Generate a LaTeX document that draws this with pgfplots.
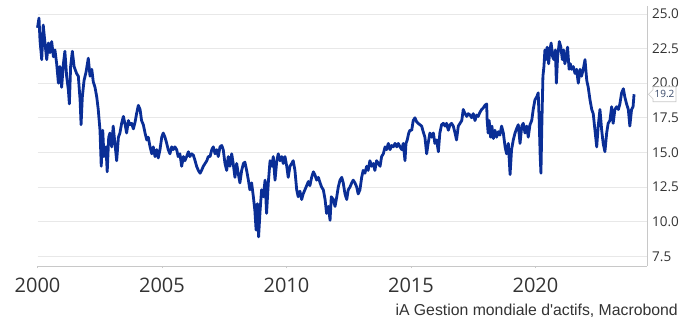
\documentclass[border=0pt]{standalone}
\usepackage{pgfplots}
\pgfplotsset{compat=1.18}
\usepackage{fontspec}
\setmainfont{Open Sans}
\newfontfamily\srcfont[Ligatures=ResetAll]{Liberation Sans}
\definecolor{lineblue}{HTML}{0A2E96}
\definecolor{gridgray}{HTML}{E8E8E8}
\definecolor{axgray}{HTML}{C8C8C8}
\definecolor{txtgray}{HTML}{333333}
\definecolor{lblblue}{HTML}{3A4A6A}
\pgfplotstableread{
x y
2000.00 24.0
2000.06 24.7
2000.10 23.1
2000.17 21.7
2000.23 24.2
2000.30 22.9
2000.37 21.7
2000.44 22.9
2000.50 22.2
2000.57 23.0
2000.64 21.9
2000.70 22.4
2000.77 21.4
2000.84 20.0
2000.90 21.2
2000.97 19.7
2001.04 21.4
2001.10 22.3
2001.17 20.5
2001.24 19.5
2001.28 18.5
2001.33 21.2
2001.40 22.3
2001.47 21.2
2001.57 20.7
2001.64 20.5
2001.71 18.8
2001.75 17.0
2001.80 19.0
2001.87 20.2
2001.95 20.8
2002.04 21.8
2002.11 20.5
2002.18 21.0
2002.24 20.1
2002.31 19.7
2002.38 19.0
2002.44 18.1
2002.51 16.6
2002.56 14.0
2002.62 16.6
2002.67 14.7
2002.75 15.4
2002.80 13.6
2002.86 16.1
2002.91 16.4
2002.98 15.4
2003.04 16.9
2003.11 15.65
2003.18 14.4
2003.25 16.1
2003.31 16.4
2003.38 17.1
2003.45 17.6
2003.51 17.1
2003.58 16.4
2003.65 17.3
2003.71 17.0
2003.78 17.1
2003.85 16.7
2003.92 17.2
2003.98 17.8
2004.05 18.4
2004.12 18.1
2004.18 17.3
2004.25 17.0
2004.32 16.4
2004.39 15.9
2004.45 16.1
2004.52 15.4
2004.59 14.9
2004.65 15.4
2004.72 14.7
2004.79 15.2
2004.85 14.6
2004.92 15.2
2004.99 16.1
2005.05 16.4
2005.12 16.1
2005.19 15.65
2005.25 15.2
2005.32 14.9
2005.39 15.4
2005.45 15.2
2005.52 15.4
2005.59 15.2
2005.65 14.7
2005.72 14.9
2005.79 14.0
2005.86 14.7
2005.92 14.4
2005.99 14.7
2006.06 15.05
2006.12 14.7
2006.19 14.9
2006.26 14.8
2006.33 14.4
2006.39 14.0
2006.46 13.7
2006.53 13.5
2006.59 13.7
2006.66 14.0
2006.73 14.2
2006.80 14.4
2006.86 14.7
2006.93 14.7
2007.00 15.2
2007.06 15.4
2007.13 14.9
2007.20 15.2
2007.26 14.7
2007.33 15.4
2007.40 15.5
2007.46 15.2
2007.53 14.2
2007.60 13.7
2007.66 14.7
2007.73 14.0
2007.80 14.9
2007.86 14.2
2007.93 13.2
2008.00 14.2
2008.06 13.5
2008.13 12.8
2008.20 13.7
2008.27 14.2
2008.33 14.3
2008.40 13.7
2008.47 13.0
2008.53 12.3
2008.60 12.8
2008.67 11.8
2008.73 10.8
2008.78 9.4
2008.83 11.3
2008.88 8.9
2008.94 10.8
2009.00 12.3
2009.07 11.8
2009.14 13.0
2009.20 10.6
2009.27 12.8
2009.34 14.4
2009.41 14.0
2009.47 14.7
2009.54 13.0
2009.61 14.4
2009.67 14.9
2009.74 14.4
2009.81 14.7
2009.87 14.2
2009.94 14.7
2010.01 14.0
2010.07 13.2
2010.14 14.0
2010.21 14.2
2010.27 14.4
2010.34 13.7
2010.41 12.3
2010.47 11.8
2010.54 12.2
2010.61 11.6
2010.67 12.0
2010.74 12.3
2010.81 12.6
2010.88 12.9
2010.94 12.6
2011.01 13.2
2011.08 13.6
2011.14 13.4
2011.21 13.0
2011.28 13.2
2011.35 12.8
2011.41 12.5
2011.48 12.3
2011.55 11.6
2011.61 10.6
2011.68 11.1
2011.75 10.1
2011.80 11.8
2011.88 11.6
2011.95 11.1
2012.02 11.8
2012.08 12.5
2012.15 13.0
2012.22 13.2
2012.28 12.8
2012.35 12.0
2012.42 11.6
2012.48 12.3
2012.55 12.5
2012.62 12.8
2012.68 13.0
2012.75 12.8
2012.82 12.5
2012.88 12.0
2012.95 12.3
2013.02 13.2
2013.08 13.7
2013.15 13.5
2013.22 14.0
2013.28 13.7
2013.35 14.4
2013.42 14.0
2013.49 14.2
2013.55 13.7
2013.62 14.4
2013.69 14.2
2013.76 14.0
2013.82 14.7
2013.89 14.9
2013.96 15.4
2014.02 15.2
2014.09 15.65
2014.16 15.2
2014.22 15.5
2014.29 15.4
2014.36 15.65
2014.43 15.4
2014.49 15.65
2014.56 15.4
2014.63 15.2
2014.69 15.65
2014.76 14.4
2014.80 15.65
2014.85 15.9
2014.91 16.4
2014.96 16.6
2015.03 16.6
2015.09 17.3
2015.16 17.5
2015.23 17.2
2015.29 17.1
2015.36 17.0
2015.43 16.9
2015.49 16.5
2015.56 16.1
2015.63 14.9
2015.69 15.65
2015.76 16.4
2015.83 16.1
2015.90 16.4
2015.96 15.65
2016.03 15.9
2016.10 15.05
2016.16 16.4
2016.23 17.0
2016.30 17.1
2016.37 16.9
2016.43 17.1
2016.50 16.6
2016.57 17.0
2016.63 17.1
2016.70 16.9
2016.77 16.4
2016.83 15.9
2016.90 16.9
2016.97 17.1
2017.04 17.3
2017.10 18.1
2017.17 17.8
2017.24 17.6
2017.30 17.8
2017.37 17.7
2017.44 17.5
2017.50 17.8
2017.57 17.3
2017.64 17.7
2017.70 17.6
2017.77 17.9
2017.84 18.1
2017.90 18.2
2017.97 18.4
2018.04 18.5
2018.06 17.3
2018.10 16.4
2018.14 17.3
2018.20 16.1
2018.25 16.9
2018.31 16.0
2018.37 16.6
2018.44 16.1
2018.51 16.5
2018.57 16.25
2018.64 16.9
2018.71 16.4
2018.78 15.4
2018.84 14.9
2018.91 15.65
2018.95 14.4
2018.98 13.4
2019.04 15.2
2019.11 15.9
2019.18 16.4
2019.24 16.7
2019.31 17.0
2019.38 15.65
2019.45 16.9
2019.51 17.1
2019.58 16.4
2019.65 16.9
2019.71 16.1
2019.78 17.0
2019.85 17.3
2019.91 18.1
2019.98 18.8
2020.05 19.0
2020.11 19.3
2020.15 17.3
2020.19 14.7
2020.22 13.5
2020.26 17.3
2020.30 20.5
2020.34 21.2
2020.38 22.4
2020.42 21.7
2020.47 22.6
2020.53 21.4
2020.58 22.4
2020.63 22.9
2020.69 21.9
2020.74 21.7
2020.80 22.4
2020.84 20.0
2020.89 21.9
2020.96 23.0
2021.02 22.6
2021.08 21.7
2021.13 22.4
2021.18 21.4
2021.24 21.9
2021.29 22.6
2021.35 21.0
2021.40 21.4
2021.45 21.0
2021.52 21.2
2021.59 20.7
2021.65 21.0
2021.72 20.0
2021.79 21.0
2021.85 20.5
2021.92 21.0
2021.99 21.7
2022.06 20.2
2022.12 19.7
2022.19 18.8
2022.26 18.1
2022.32 17.8
2022.39 16.6
2022.46 15.4
2022.52 16.9
2022.59 18.1
2022.66 16.6
2022.72 15.65
2022.79 15.05
2022.86 16.4
2022.92 17.1
2022.99 17.3
2023.06 18.3
2023.12 17.1
2023.19 18.1
2023.26 18.3
2023.33 18.1
2023.39 18.5
2023.46 19.3
2023.53 19.6
2023.59 19.0
2023.66 18.5
2023.73 18.1
2023.79 16.9
2023.86 18.1
2023.92 18.3
2023.96 19.2
}\series

\begin{document}
\begin{tikzpicture}
\useasboundingbox (0pt,0pt) rectangle (696pt,320pt);
\begin{axis}[
  at={(37.5pt,54pt)}, anchor=south west,
  scale only axis, width=609.5pt, height=260.4pt,
  xmin=2000, xmax=2024.48, ymin=6.8, ymax=25.6,
  axis x line*=bottom, axis y line*=right,
  axis line style={axgray, line width=0.8pt},
  xtick={2000,2005,2010,2015,2020},
  ytick={7.5,10,12.5,15,17.5,20,22.5,25},
  ymajorgrids, grid style={gridgray, line width=0.8pt},
  tick align=outside, major tick length=2.5pt,
  xtick style={axgray, line width=0.6pt},
  ytick style={draw=none},
  /pgf/number format/assume math mode=true,
  /pgf/number format/1000 sep={},
  xticklabel style={font=\fontsize{20}{24}\selectfont, text=txtgray, anchor=north, inner sep=0pt, yshift=-9pt},
  yticklabel style={/pgf/number format/fixed, /pgf/number format/fixed zerofill, /pgf/number format/precision=1, font=\fontsize{13.5}{16}\selectfont, text=txtgray, anchor=west, inner sep=0pt, xshift=2.5pt},
  clip=false,
]
\addplot[lineblue, line width=2.8pt, line join=round] table[x=x,y=y] {\series};
\coordinate (lbl) at (axis cs:2024.48,19.2);
\end{axis}
\draw[axgray, fill=white, line width=0.6pt] ([xshift=1.5pt]lbl) -- ++(4.5pt,4.5pt) -- ++(0pt,3pt) -- ++(23pt,0pt) -- ++(0pt,-15pt) -- ++(-23pt,0pt) -- ++(0pt,3pt) -- cycle;
\node[font=\fontsize{10}{12}\selectfont, text=lblblue, inner sep=0pt] at ([xshift=17.5pt]lbl) {19.2};
\node[anchor=base east, font=\srcfont\fontsize{15.8}{18}\selectfont, text=txtgray, inner sep=0pt] at (678pt,4pt) {iA Gestion mondiale d'actifs, Macrobond};
\end{tikzpicture}
\end{document}
